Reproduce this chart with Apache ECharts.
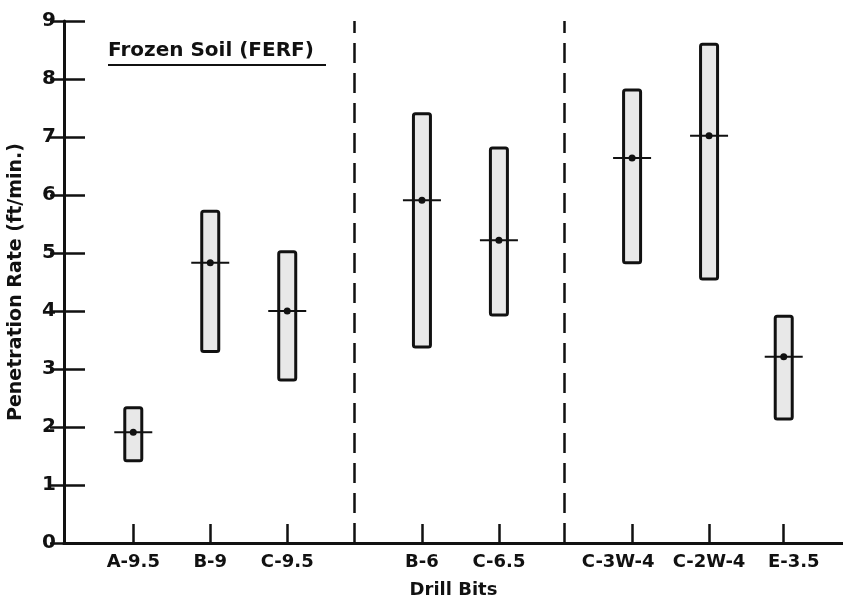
<!DOCTYPE html>
<html>
<head>
<meta charset="utf-8">
<script src="https://cdn.jsdelivr.net/npm/echarts@6/dist/echarts.min.js"></script>
<style>
  html, body { margin: 0; padding: 0; background: #fff; }
  #chart { width: 843px; height: 599px; }
</style>
</head>
<body>
<div id="chart"></div>
<script>
// drill bits and where they sit along the x axis (groups separated by dashed lines)
var bits = ["A-9.5", "B-9", "C-9.5", "B-6", "C-6.5", "C-3W-4", "C-2W-4", "E-3.5"];
var positions = [0.9, 1.9, 2.9, 4.65, 5.65, 7.38, 8.38, 9.35];
var separators = [3.77, 6.5];

// penetration rate (ft/min.): range low / high and mean
var lows = [1.42, 3.30, 2.81, 3.38, 3.93, 4.83, 4.55, 2.14];
var highs = [2.33, 5.72, 5.02, 7.40, 6.81, 7.81, 8.60, 3.91];
var means = [1.91, 4.83, 4.00, 5.91, 5.22, 6.64, 7.02, 3.21];

var chart = echarts.init(document.getElementById("chart"));

var boxData = bits.map(function (b, i) {
  return [positions[i], lows[i], highs[i], means[i]];
});

function renderBox(params, api) {
  var x = api.value(0);
  var top = api.coord([x, api.value(2)]);
  var bot = api.coord([x, api.value(1)]);
  var m = api.coord([x, api.value(3)]);
  var w = 17;
  return {
    type: "group",
    children: [
      {
        type: "rect",
        shape: { x: top[0] - w / 2, y: top[1], width: w, height: bot[1] - top[1], r: 2 },
        style: { fill: "#e8e8e8", stroke: "#111", lineWidth: 3 }
      },
      {
        type: "line",
        shape: { x1: m[0] - 19, y1: m[1], x2: m[0] + 19, y2: m[1] },
        style: { stroke: "#111", lineWidth: 2 }
      },
      {
        type: "circle",
        shape: { cx: m[0], cy: m[1], r: 3.5 },
        style: { fill: "#111" }
      }
    ]
  };
}

var font = "DejaVu Sans";
var labelStyle = { fontFamily: font, fontWeight: "bold", fontSize: 18, color: "#111" };

// labels in the original are nudged a little off their ticks
var nudge = { "C-3W-4": "l", "E-3.5": "r" };

var option = {
  animation: false,
  grid: { left: 64, top: 21, right: 0, bottom: 56, outerBoundsMode: "none" },
  xAxis: [
    {
      type: "value",
      min: 0,
      max: 10.12,
      name: "Drill Bits",
      nameLocation: "middle",
      nameGap: 38,
      nameTextStyle: { fontFamily: font, fontWeight: "bold", fontSize: 18, color: "#111" },
      splitLine: { show: false },
      axisLine: { lineStyle: { color: "#111", width: 3 } },
      axisTick: {
        inside: true,
        length: 19,
        customValues: positions,
        lineStyle: { color: "#111", width: 2.5 }
      },
      axisLabel: {
        customValues: positions,
        margin: 10,
        fontFamily: font,
        fontWeight: "bold",
        fontSize: 18,
        color: "#111",
        rich: {
          n: labelStyle,
          l: Object.assign({ padding: [0, 28, 0, 0] }, labelStyle),
          r: Object.assign({ padding: [0, 0, 0, 20] }, labelStyle)
        },
        formatter: function (v) {
          var i = positions.indexOf(v);
          if (i < 0) return "";
          return "{" + (nudge[bits[i]] || "n") + "|" + bits[i] + "}";
        }
      }
    },
    {
      type: "value",
      position: "top",
      min: 0,
      max: 10.12,
      splitLine: { show: false },
      axisLine: { show: true, lineStyle: { color: "#111", width: 3 } },
      axisTick: { show: false },
      axisLabel: { show: false }
    }
  ],
  yAxis: [
    {
      type: "value",
      min: 0,
      max: 9,
      interval: 1,
      name: "Penetration Rate (ft/min.)",
      nameLocation: "middle",
      nameGap: 38,
      nameTextStyle: { fontFamily: font, fontWeight: "bold", fontSize: 19, color: "#111" },
      splitLine: { show: false },
      axisLine: { show: true, lineStyle: { color: "#111", width: 3 } },
      axisTick: { inside: true, length: 21, lineStyle: { color: "#111", width: 2.5 } },
      axisLabel: { margin: 8, fontFamily: font, fontWeight: "bold", fontSize: 20, color: "#111" }
    },
    {
      type: "value",
      position: "right",
      min: 0,
      max: 9,
      interval: 1,
      splitLine: { show: false },
      axisLine: { show: false },
      axisTick: { show: true, inside: true, length: 14, lineStyle: { color: "#111", width: 2.5 } },
      axisLabel: { show: false }
    }
  ],
  graphic: [
    {
      type: "text",
      left: 108,
      top: 41,
      style: {
        text: "Frozen Soil (FERF)",
        fontFamily: font,
        fontWeight: "bold",
        fontSize: 20,
        fill: "#111"
      }
    },
    {
      type: "line",
      shape: { x1: 108, y1: 65, x2: 326, y2: 65 },
      style: { stroke: "#111", lineWidth: 2 }
    }
  ],
  series: [
    {
      type: "custom",
      renderItem: renderBox,
      data: boxData,
      encode: { x: 0, y: [1, 2] },
      markLine: {
        silent: true,
        symbol: "none",
        label: { show: false },
        lineStyle: { color: "#111", width: 2.5, type: [20, 10] },
        data: separators.map(function (s) { return { xAxis: s }; })
      }
    }
  ]
};

chart.setOption(option);
</script>
</body>
</html>
